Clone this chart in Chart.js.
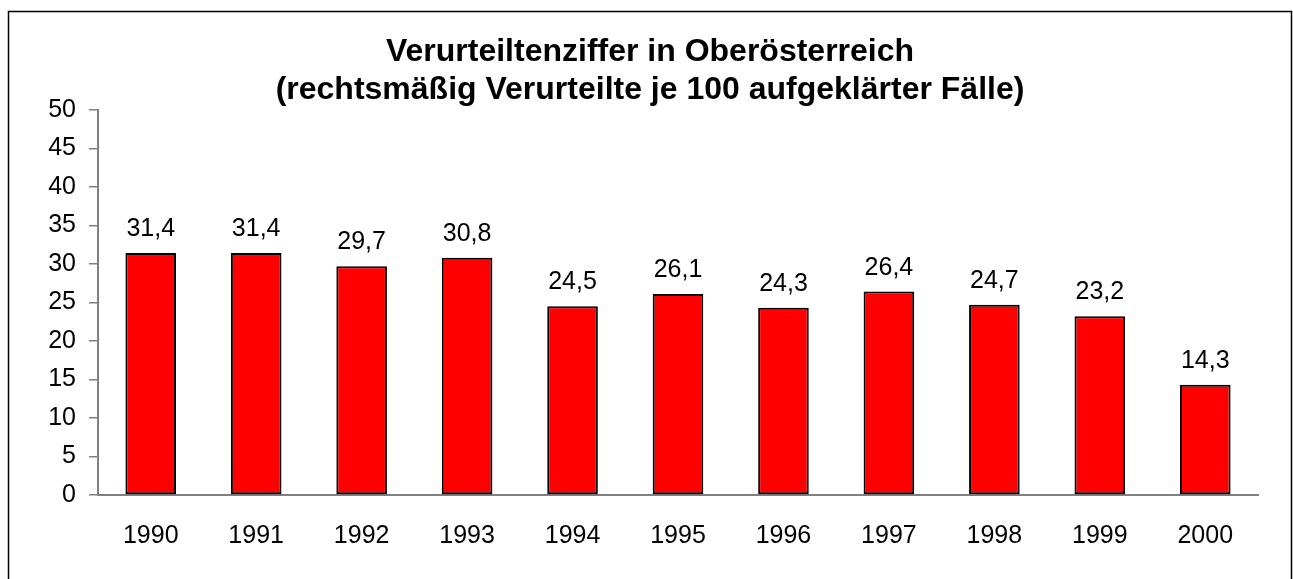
<!DOCTYPE html>
<html>
<head>
<meta charset="utf-8">
<script src="https://cdn.jsdelivr.net/npm/chart.js@4"></script>
<style>
    html, body { margin: 0; padding: 0; background: #fff; }
    #wrap { width: 1293px; height: 579px; position: relative; }
</style>
</head>
<body>
<div id="wrap"><canvas id="chart" width="1293" height="579"></canvas></div>
<script>
// chart data
const years = ['1990', '1991', '1992', '1993', '1994', '1995', '1996', '1997', '1998', '1999', '2000'];
const rates = [31.4, 31.4, 29.7, 30.8, 24.5, 26.1, 24.3, 26.4, 24.7, 23.2, 14.3];
const yTicks = [0, 5, 10, 15, 20, 25, 30, 35, 40, 45, 50];
const titleLines = ['Verurteiltenziffer in Oberösterreich', '(rechtsmäßig Verurteilte je 100 aufgeklärter Fälle)'];

Chart.defaults.font.family = '"Liberation Sans", Arial, sans-serif';
Chart.defaults.color = '#000';

// white background + frame (open at the bottom like the original)
const framePlugin = {
    id: 'frame',
    beforeDraw(chart) {
        const ctx = chart.ctx;
        ctx.save();
        ctx.fillStyle = '#fff';
        ctx.fillRect(0, 0, chart.width, chart.height);
        ctx.strokeStyle = '#000';
        ctx.lineWidth = 1.5;
        ctx.beginPath();
        ctx.moveTo(8.5, chart.height + 2);
        ctx.lineTo(8.5, 11.5);
        ctx.lineTo(1291.5, 11.5);
        ctx.lineTo(1291.5, chart.height + 2);
        ctx.stroke();
        ctx.restore();
    }
};

// value labels above bars, decimal comma
const valueLabels = {
    id: 'valueLabels',
    afterDatasetsDraw(chart) {
        const ctx = chart.ctx;
        const meta = chart.getDatasetMeta(0);
        ctx.save();
        ctx.font = '25px "Liberation Sans", Arial, sans-serif';
        ctx.fillStyle = '#000';
        ctx.textAlign = 'center';
        ctx.textBaseline = 'alphabetic';
        meta.data.forEach((bar, i) => {
            const txt = rates[i].toFixed(1).replace('.', ',');
            ctx.fillText(txt, bar.x, bar.y - 17);
        });
        ctx.restore();
    }
};

const ctx = document.getElementById('chart').getContext('2d');
new Chart(ctx, {
    type: 'bar',
    data: {
        labels: years,
        datasets: [{
            data: rates,
            backgroundColor: '#ff0000',
            borderColor: '#000',
            borderWidth: 2,
            borderSkipped: false,
            barPercentage: 0.48,
            categoryPercentage: 1
        }]
    },
    options: {
        responsive: false,
        animation: false,
        layout: { padding: { left: 42, right: 35, top: 0, bottom: 0 } },
        plugins: {
            legend: { display: false },
            tooltip: { enabled: false },
            title: {
                display: true,
                text: titleLines,
                font: { size: 32, weight: 'bold' },
                lineHeight: 1.2,
                color: '#000',
                padding: { top: 33, bottom: 0 }
            }
        },
        scales: {
            x: {
                grid: { display: false, drawTicks: false },
                border: { color: '#808080', width: 2 },
                ticks: { font: { size: 25 }, padding: 26, maxRotation: 0 },
                afterFit(scale) { scale.height = 84; }
            },
            y: {
                min: 0,
                max: 50,
                afterBuildTicks(scale) { scale.ticks = yTicks.map(v => ({ value: v })); },
                grid: { drawOnChartArea: false, drawTicks: true, tickLength: 9, color: '#808080', lineWidth: 1.5 },
                border: { color: '#808080', width: 2 },
                ticks: { font: { size: 25 }, padding: 13 },
                afterFit(scale) { scale.width = 56; }
            }
        }
    },
    plugins: [framePlugin, valueLabels]
});
</script>
</body>
</html>
